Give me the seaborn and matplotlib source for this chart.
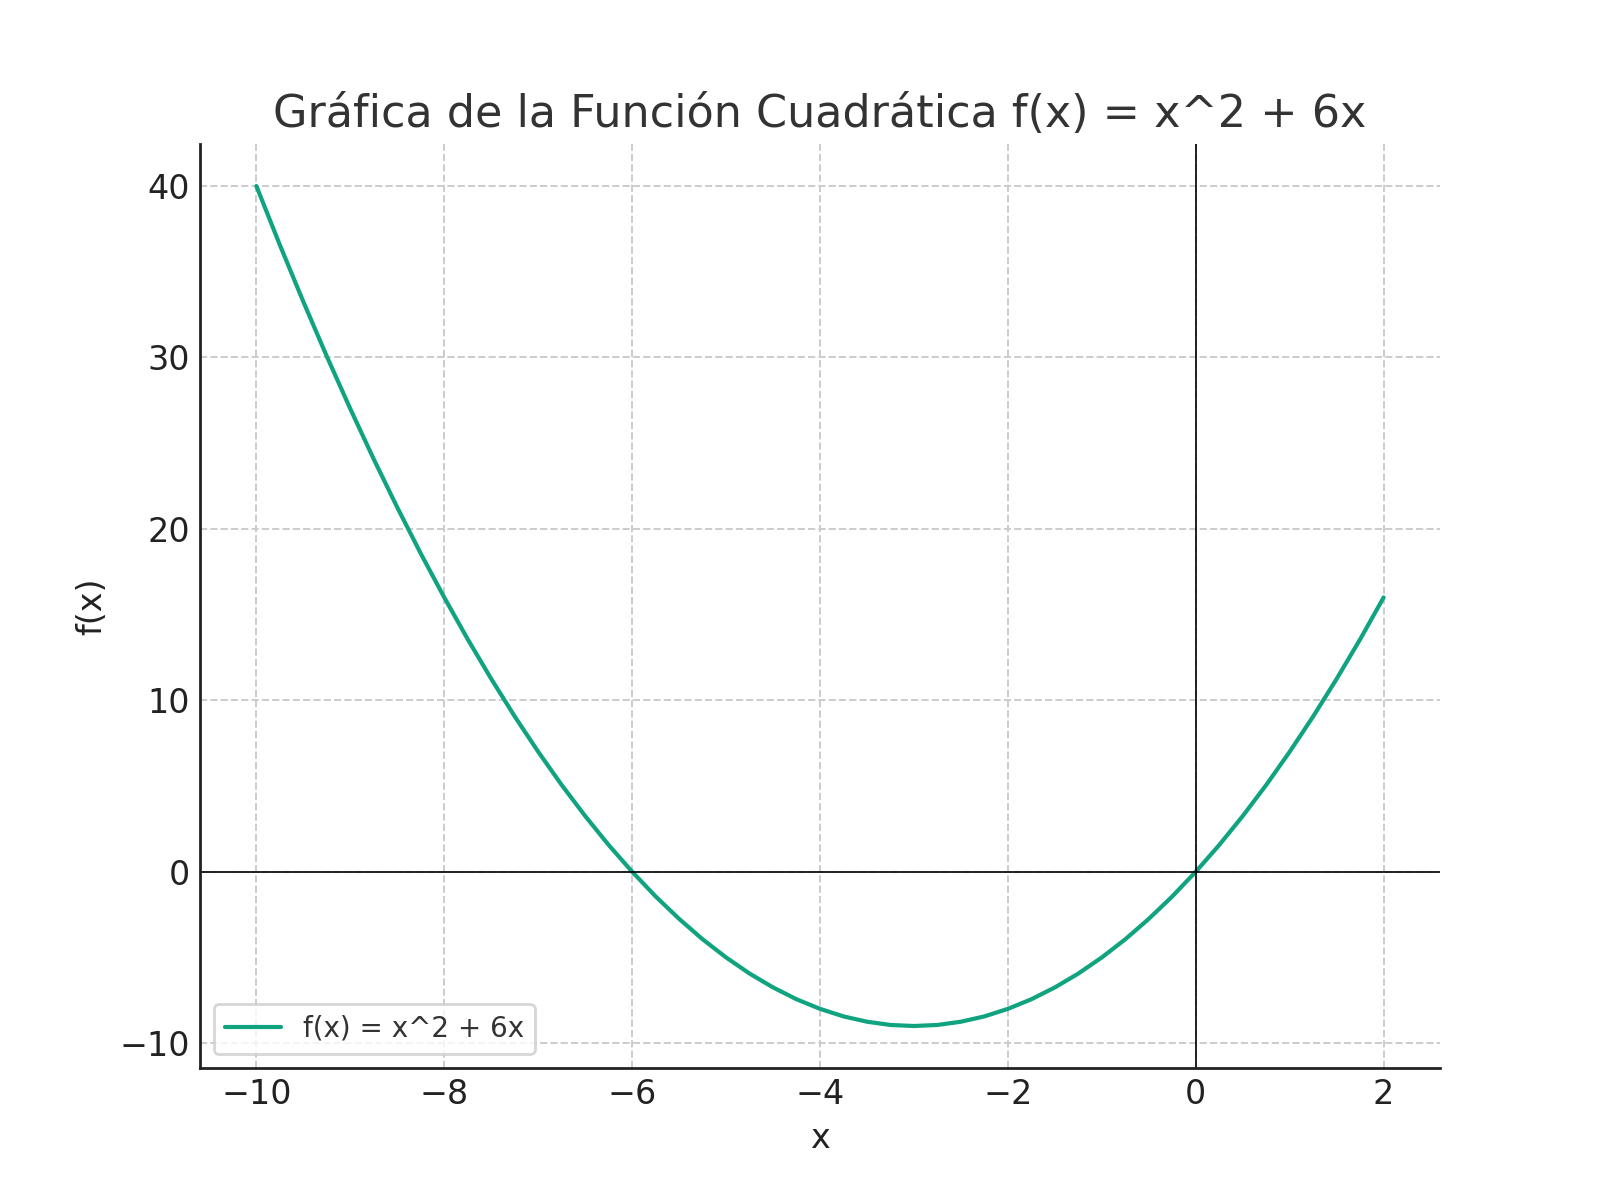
import pandas as pd
import matplotlib
matplotlib.use("Agg")
import matplotlib.pyplot as plt
import seaborn as sns

# ==========================================================
# Data (quarter steps)
# ==========================================================

x_values = [-10.0, -9.75, -9.5, -9.25, -9.0, -8.75, -8.5, -8.25,
            -8.0, -7.75, -7.5, -7.25, -7.0, -6.75, -6.5, -6.25,
            -6.0, -5.75, -5.5, -5.25, -5.0, -4.75, -4.5, -4.25,
            -4.0, -3.75, -3.5, -3.25, -3.0, -2.75, -2.5, -2.25,
            -2.0, -1.75, -1.5, -1.25, -1.0, -0.75, -0.5, -0.25,
            0.0, 0.25, 0.5, 0.75, 1.0, 1.25, 1.5, 1.75, 2.0]
y_values = [40.0, 36.56, 33.25, 30.06, 27.0, 24.06, 21.25, 18.56,
            16.0, 13.56, 11.25, 9.06, 7.0, 5.06, 3.25, 1.56,
            0.0, -1.44, -2.75, -3.94, -5.0, -5.94, -6.75, -7.44,
            -8.0, -8.44, -8.75, -8.94, -9.0, -8.94, -8.75, -8.44,
            -8.0, -7.44, -6.75, -5.94, -5.0, -3.94, -2.75, -1.44,
            0.0, 1.56, 3.25, 5.06, 7.0, 9.06, 11.25, 13.56, 16.0]

series_label = "f(x) = x^2 + 6x"
title_text = "Gráfica de la Función Cuadrática f(x) = x^2 + 6x"
x_ticks = [-10, -8, -6, -4, -2, 0, 2]
y_ticks = [-10, 0, 10, 20, 30, 40]

df = pd.DataFrame({"x": x_values, "y": y_values})

# ==========================================================
# Style
# ==========================================================

sns.set_style("white")
plt.rcParams["font.family"] = ["DejaVu Sans"]
plt.rcParams["xtick.direction"] = "in"
plt.rcParams["ytick.direction"] = "in"

fig, ax = plt.subplots(figsize=(8, 6), dpi=200)
fig.subplots_adjust(left=0.125, right=0.9, top=0.88, bottom=0.11)

sns.lineplot(
    data=df, x="x", y="y", ax=ax,
    color="#10a37f", linewidth=1.5, label=series_label
)

ax.axhline(0, color="black", linewidth=0.6)
ax.axvline(0, color="black", linewidth=0.6)

ax.grid(True, linestyle="--", color="#cccccc", linewidth=0.7)
ax.set_axisbelow(True)

ax.set_xticks(x_ticks)
ax.set_yticks(y_ticks)
ax.set_xlim(-10.6, 2.6)
ax.set_ylim(-11.45, 42.45)

for side in ["top", "right"]:
    ax.spines[side].set_visible(False)
for side in ["left", "bottom"]:
    ax.spines[side].set_color("#222222")
    ax.spines[side].set_linewidth(1.0)

ax.tick_params(axis="both", labelsize=12, colors="#222222", length=5, width=1)

ax.set_title(title_text, fontsize=16, color="#333333")
ax.set_xlabel("x", fontsize=12, color="#222222")
ax.set_ylabel("f(x)", fontsize=12, color="#222222")

legend = ax.legend(loc="lower left", fontsize=10, frameon=True)
for text in legend.get_texts():
    text.set_color("#333333")

plt.savefig("out.png", dpi=200)
plt.close()
